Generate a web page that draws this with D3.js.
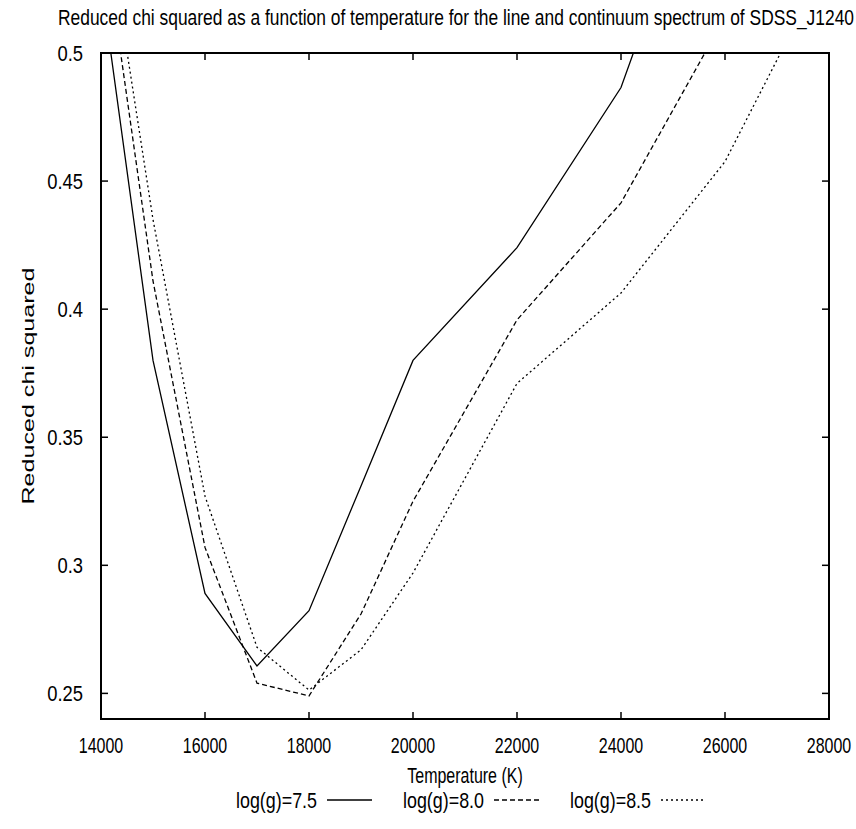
<!DOCTYPE html>
<html>
<head>
<meta charset="utf-8">
<script src="https://cdn.jsdelivr.net/npm/d3@7"></script>
<style>
  body { margin: 0; background: #fff; }
  text { font-family: "Liberation Sans", Arial, sans-serif; fill: #000; }
</style>
</head>
<body>
<svg width="856" height="829"></svg>
<script>
// temperatures sampled (K)
const temps = [14000, 15000, 16000, 17000, 18000, 19000, 20000, 22000, 24000, 26000, 28000];
// reduced chi squared per log(g) (values past 0.5 are clipped)
const chi75 = [0.528, 0.380, 0.289, 0.2607, 0.2823, 0.331, 0.380, 0.424, 0.4865, 0.60, null];
const chi80 = [0.554, 0.411, 0.307, 0.254, 0.249, 0.281, 0.325, 0.3958, 0.4415, 0.514, null];
const chi85 = [0.566, 0.435, 0.327, 0.268, 0.2513, 0.267, 0.297, 0.371, 0.4063, 0.4576, 0.537];
const xTicks = [14000, 16000, 18000, 20000, 22000, 24000, 26000, 28000];
const yTicks = [0.25, 0.3, 0.35, 0.4, 0.45, 0.5];

const series = [
  { name: "log(g)=7.5", values: chi75, dash: null },
  { name: "log(g)=8.0", values: chi80, dash: "5,3" },
  { name: "log(g)=8.5", values: chi85, dash: "2,3" }
];

const svg = d3.select("svg");
const pLeft = 101, pRight = 829, pTop = 53, pBottom = 719;
// the picture is stretched vertically, so horizontal text looks tall and narrow
const stretch = 1.4;

const x = d3.scaleLinear().domain([14000, 28000]).range([pLeft, pRight]);
const y = d3.scaleLinear().domain([0.24, 0.5]).range([pBottom, pTop]);

function tallText(sel, tx, ty, sx) {
  return sel.append("text")
    .attr("transform", "translate(" + tx + "," + ty + ") scale(" + (sx || 1) + "," + stretch + ")")
    .attr("font-size", 16);
}

svg.append("defs").append("clipPath").attr("id", "plot")
  .append("rect")
  .attr("x", pLeft).attr("y", pTop)
  .attr("width", pRight - pLeft).attr("height", pBottom - pTop);

// title
tallText(svg, 58, 25)
  .attr("textLength", 796).attr("lengthAdjust", "spacingAndGlyphs")
  .text("Reduced chi squared as a function of temperature for the line and continuum spectrum of SDSS_J1240");

// ticks, gnuplot style: inward on all four sides
const tickLen = 7;
const tk = svg.append("g").attr("stroke", "#000").attr("stroke-width", 1.5);
xTicks.forEach(function (t) {
  tk.append("line").attr("x1", x(t)).attr("x2", x(t)).attr("y1", pBottom).attr("y2", pBottom - tickLen);
  tk.append("line").attr("x1", x(t)).attr("x2", x(t)).attr("y1", pTop).attr("y2", pTop + tickLen);
});
yTicks.forEach(function (t) {
  tk.append("line").attr("x1", pLeft).attr("x2", pLeft + tickLen).attr("y1", y(t)).attr("y2", y(t));
  tk.append("line").attr("x1", pRight).attr("x2", pRight - tickLen).attr("y1", y(t)).attr("y2", y(t));
});

const xLab = svg.append("g");
xTicks.forEach(function (t) {
  tallText(xLab, x(t), pBottom + 34)
    .attr("text-anchor", "middle")
    .text(t);
});

const yLab = svg.append("g");
yTicks.forEach(function (t) {
  tallText(yLab, pLeft - 18, y(t) + 8, 1.15)
    .attr("text-anchor", "end")
    .text(t);
});

// axis titles
tallText(svg, 465, 783)
  .attr("text-anchor", "middle")
  .text("Temperature (K)");

svg.append("text")
  .attr("transform", "translate(34,386) rotate(-90)")
  .attr("text-anchor", "middle")
  .attr("font-size", 16)
  .attr("textLength", 237).attr("lengthAdjust", "spacingAndGlyphs")
  .text("Reduced chi squared");

// curves
const line = d3.line()
  .defined((d) => d.v !== null)
  .x((d) => x(d.t))
  .y((d) => y(d.v));

const curves = svg.append("g").attr("clip-path", "url(#plot)");
series.forEach(function (s) {
  curves.append("path")
    .datum(temps.map((t, i) => ({ t: t, v: s.values[i] })))
    .attr("fill", "none")
    .attr("stroke", "#000")
    .attr("stroke-width", 1.3)
    .attr("stroke-dasharray", s.dash)
    .attr("d", line);
});

// frame
svg.append("rect")
  .attr("x", pLeft).attr("y", pTop)
  .attr("width", pRight - pLeft).attr("height", pBottom - pTop)
  .attr("fill", "none")
  .attr("stroke", "#000")
  .attr("stroke-width", 2);

// key below the plot
const keyX = [236, 403, 570];
series.forEach(function (s, i) {
  tallText(svg, keyX[i], 808)
    .attr("textLength", 81).attr("lengthAdjust", "spacingAndGlyphs")
    .text(s.name);
  svg.append("line")
    .attr("x1", keyX[i] + 91).attr("x2", keyX[i] + 136)
    .attr("y1", 800).attr("y2", 800)
    .attr("stroke", "#000")
    .attr("stroke-width", 1.3)
    .attr("stroke-dasharray", s.dash);
});
</script>
</body>
</html>
